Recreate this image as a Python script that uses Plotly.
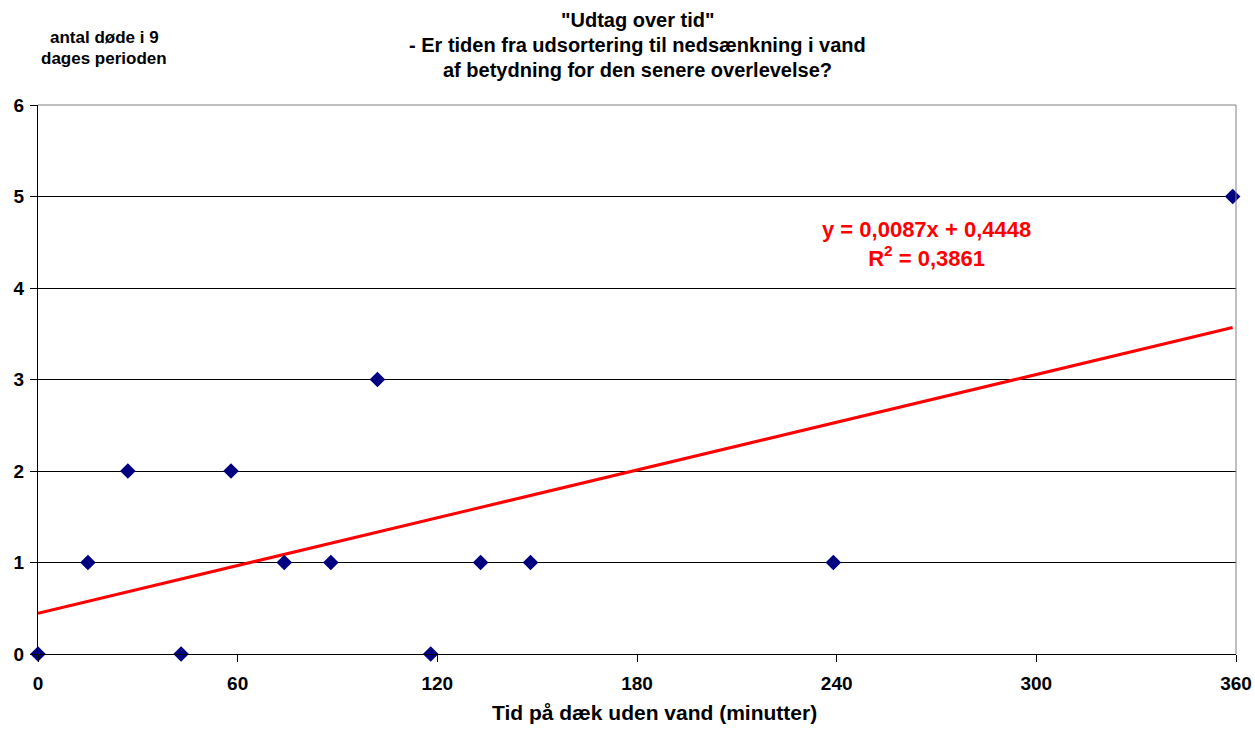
import plotly.graph_objects as go

# Data
minutes = [0, 15, 27, 43, 58, 74, 88, 102, 118, 133, 148, 239, 359]
deaths = [0, 1, 2, 0, 2, 1, 1, 3, 0, 1, 1, 1, 5]

# Trendline coefficients as printed on the chart
slope = 0.0087
intercept = 0.4448
r_squared = 0.3861

x_ticks = [0, 60, 120, 180, 240, 300, 360]
y_ticks = [0, 1, 2, 3, 4, 5, 6]

title_lines = [
    '"Udtag over tid"',
    '- Er tiden fra udsortering til nedsænkning i vand',
    'af betydning for den senere overlevelse?',
]
y_title_lines = ["antal døde i 9", "dages perioden"]
x_title = "Tid på dæk uden vand (minutter)"

FONT = "Arial, Liberation Sans, sans-serif"


def comma(v):
    return str(v).replace(".", ",")


trend_x = [min(minutes), max(minutes)]
trend_y = [slope * v + intercept for v in trend_x]

fig = go.Figure()
fig.add_trace(go.Scatter(
    x=trend_x, y=trend_y, mode="lines",
    line=dict(color="#FF0000", width=3),
    hoverinfo="skip", showlegend=False, cliponaxis=False,
))
fig.add_trace(go.Scatter(
    x=minutes, y=deaths, mode="markers",
    marker=dict(symbol="diamond", size=12, color="#000080"),
    showlegend=False, cliponaxis=False,
))

W, H = 1255, 749
L, R, T, B = 38, 19, 105, 95
plot_w = W - L - R
plot_h = H - T - B


def px_x(sx):
    return (sx - L) / plot_w


def px_y(sy):
    return 1 - (sy - T) / plot_h


tick_font = dict(size=19, family=FONT, color="black", weight="bold")

fig.update_layout(
    width=W, height=H,
    margin=dict(l=L, r=R, t=T, b=B, pad=0),
    paper_bgcolor="white", plot_bgcolor="white",
    font=dict(family=FONT, color="black"),
    xaxis=dict(
        range=[0, 360], tickvals=x_ticks, ticktext=[str(v) for v in x_ticks],
        showgrid=False, zeroline=False, automargin=False,
        showline=True, linecolor="black", linewidth=1,
        ticks="outside", ticklen=7, tickcolor="black", tickwidth=1,
        ticklabelstandoff=5,
        tickfont=tick_font, fixedrange=True,
    ),
    yaxis=dict(
        range=[0, 6], tickvals=y_ticks, ticktext=[str(v) for v in y_ticks],
        showgrid=True, gridcolor="black", gridwidth=1, zeroline=False,
        automargin=False,
        showline=True, linecolor="black", linewidth=1,
        ticks="outside", ticklen=7, tickcolor="black", tickwidth=1,
        ticklabelstandoff=2,
        tickfont=tick_font, fixedrange=True,
    ),
    shapes=[
        dict(type="line", xref="paper", yref="paper", x0=0, x1=1, y0=1, y1=1,
             line=dict(color="#808080", width=1), layer="above"),
        dict(type="line", xref="paper", yref="paper", x0=1, x1=1, y0=0, y1=1,
             line=dict(color="#808080", width=1), layer="above"),
    ],
)

annotations = []
for line, sy in zip(title_lines, [20, 45, 70]):
    annotations.append(dict(
        text=line, xref="paper", yref="paper", x=0.5, y=px_y(sy),
        xanchor="center", yanchor="middle", showarrow=False,
        font=dict(size=20, family=FONT, color="black", weight="bold"),
    ))
for line, sy in zip(y_title_lines, [37, 59]):
    annotations.append(dict(
        text=line, xref="paper", yref="paper", x=px_x(104), y=px_y(sy),
        xanchor="center", yanchor="middle", showarrow=False,
        font=dict(size=17, family=FONT, color="black", weight="bold"),
    ))
annotations.append(dict(
    text=x_title, xref="paper", yref="paper", x=px_x(654), y=px_y(712),
    xanchor="center", yanchor="middle", showarrow=False,
    font=dict(size=21, family=FONT, color="black", weight="bold"),
))
annotations.append(dict(
    text=f"y = {comma(slope)}x + {comma(intercept)}<br>R<sup>2</sup> = {comma(r_squared)}",
    xref="paper", yref="paper", x=px_x(926), y=px_y(244),
    xanchor="center", yanchor="middle", align="center", showarrow=False,
    font=dict(size=22, family=FONT, color="#FF0000", weight="bold"),
))
fig.update_layout(annotations=annotations)

# Remove the browser's default body margin so the figure fills the window exactly
fig.write_html(
    "out.html",
    config={"displayModeBar": False},
    post_script="document.body.style.margin='0';document.body.style.overflow='hidden';",
)
